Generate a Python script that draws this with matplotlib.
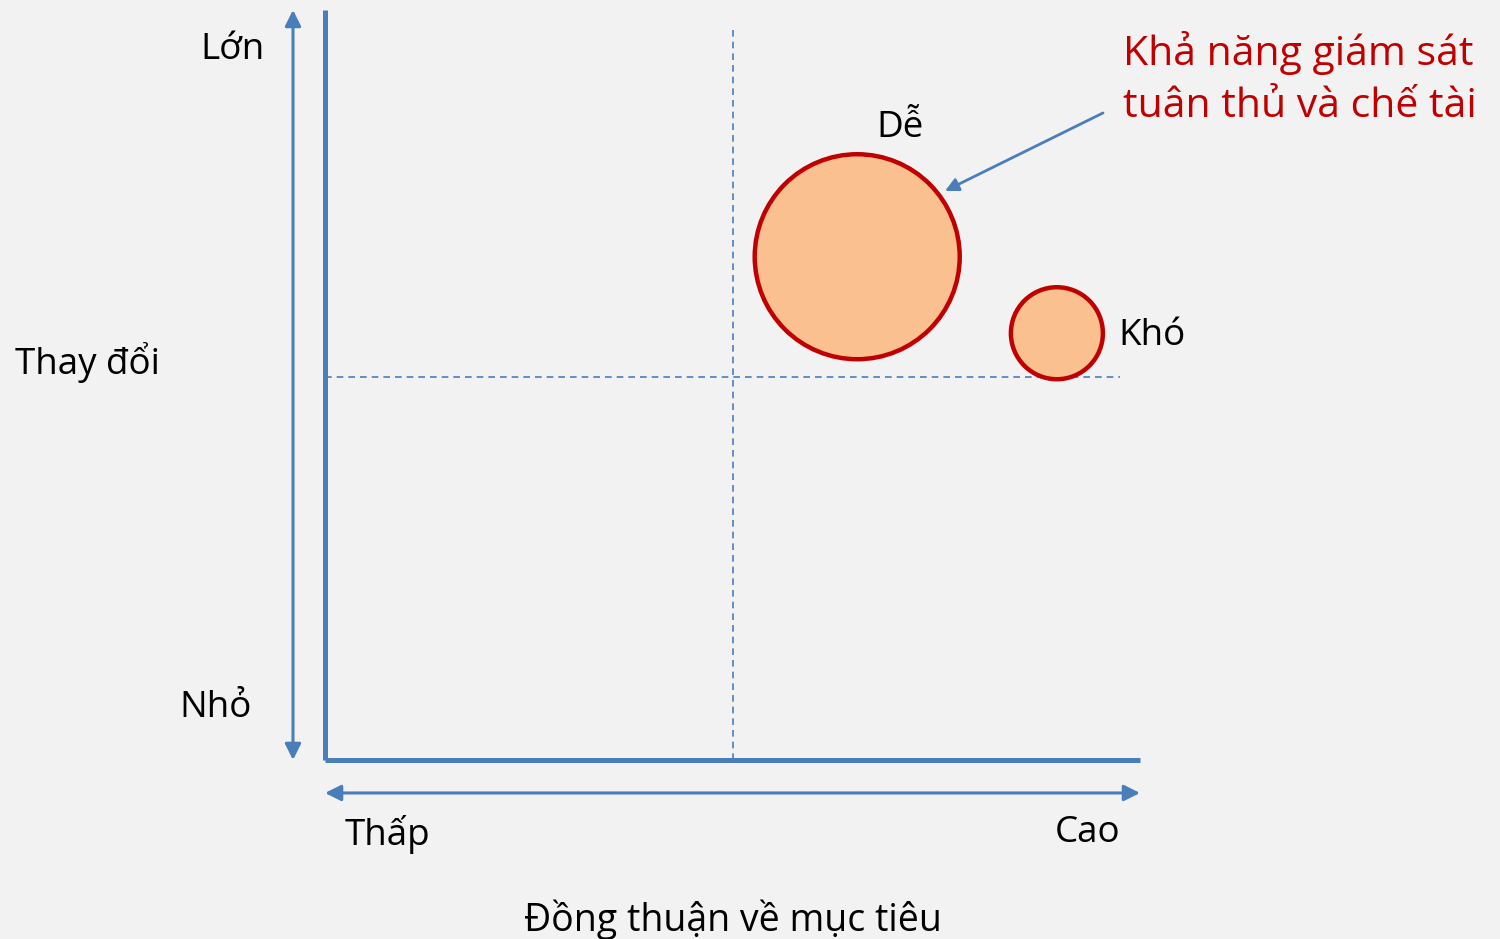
import matplotlib
matplotlib.use("Agg")
import matplotlib.pyplot as plt

plt.rcParams['font.family'] = ['Open Sans', 'Noto Sans', 'DejaVu Sans']

# ---- data ----
bubble_labels = ["Dễ", "Khó"]
bubble_x = [6.53, 8.98]      # Đồng thuận về mục tiêu
bubble_y = [6.71, 5.69]      # Thay đổi
bubble_diam_px = [205, 92]   # bubble diameter (pixels)
divider_x = 5.0
divider_y = 5.1
y_ticklabels = ["Lớn", "Thay đổi", "Nhỏ"]
x_ticklabels = ["Thấp", "Cao"]
x_title = "Đồng thuận về mục tiêu"
callout = "Khả năng giám sát\ntuân thủ và chế tài"

BLUE = "#4a7ebb"
RED = "#c00000"
FILL = "#fac090"
BG = "#f2f2f2"
FS = 26.5

W, H, DPI = 1500, 939, 100
fig = plt.figure(figsize=(W / DPI, H / DPI), dpi=DPI, facecolor=BG)
ax = fig.add_axes([0, 0, 1, 1])
ax.set_facecolor(BG)
ax.axis("off")
# main quadrant 0..10 x 0..10
ax.set_xlim(-3.988, 14.417)
ax.set_ylim(-2.387, 10.133)

# axes lines
ax.plot([0, 0], [0, 10], color=BLUE, lw=3.6, solid_capstyle="butt")
ax.plot([0, 10], [0, 0], color=BLUE, lw=3.6, solid_capstyle="butt")

# double arrows
ax.annotate("", xy=(-0.393, 10), xytext=(-0.393, 0),
            arrowprops=dict(arrowstyle="<|-|>", color=BLUE, lw=2.2,
                            mutation_scale=24, shrinkA=0, shrinkB=0))
ax.annotate("", xy=(10, -0.44), xytext=(0, -0.44),
            arrowprops=dict(arrowstyle="<|-|>", color=BLUE, lw=2.2,
                            mutation_scale=24, shrinkA=0, shrinkB=0))

# dashed dividers
ax.plot([divider_x, divider_x], [0, 9.8], color=BLUE, lw=1.2, ls=(0, (4, 3)))
ax.plot([0, 9.75], [divider_y, divider_y], color=BLUE, lw=1.2, ls=(0, (4, 3)))

# bubbles
sizes = [(d * 72 / DPI) ** 2 for d in bubble_diam_px]
ax.scatter(bubble_x, bubble_y, s=sizes, facecolor=FILL, edgecolor=RED,
           linewidth=3.2, zorder=3)

# bubble labels
dy = -0.04
ax.text(7.055, 8.467 + dy, bubble_labels[0], fontsize=FS, ha="center", va="center")
ax.text(9.73, 5.693 + dy, bubble_labels[1], fontsize=FS, ha="left", va="center")

# y labels
ax.text(-1.141, 9.507 + dy, y_ticklabels[0], fontsize=FS, ha="center", va="center")
ax.text(-3.804, 5.333 + dy, y_ticklabels[1], fontsize=FS, ha="left", va="center")
ax.text(-1.337, 0.733 + dy, y_ticklabels[2], fontsize=FS, ha="center", va="center")

# x labels
ax.text(0.761, -0.96 + dy, x_ticklabels[0], fontsize=FS, ha="center", va="center")
ax.text(9.36, -0.933 + dy, x_ticklabels[1], fontsize=FS, ha="center", va="center")
ax.text(5.006, -2.093 + dy, x_title, fontsize=FS + 0.5, ha="center", va="center")

# callout
ax.text(9.791, 9.08, callout, fontsize=29.5, color=RED, ha="left", va="center",
        linespacing=1.4)
ax.annotate("", xy=(7.607, 7.587), xytext=(9.546, 8.627),
            arrowprops=dict(arrowstyle="-|>", color=BLUE, lw=2.0,
                            mutation_scale=20, shrinkA=0, shrinkB=0))

fig.savefig("out.png", dpi=DPI, facecolor=BG)
